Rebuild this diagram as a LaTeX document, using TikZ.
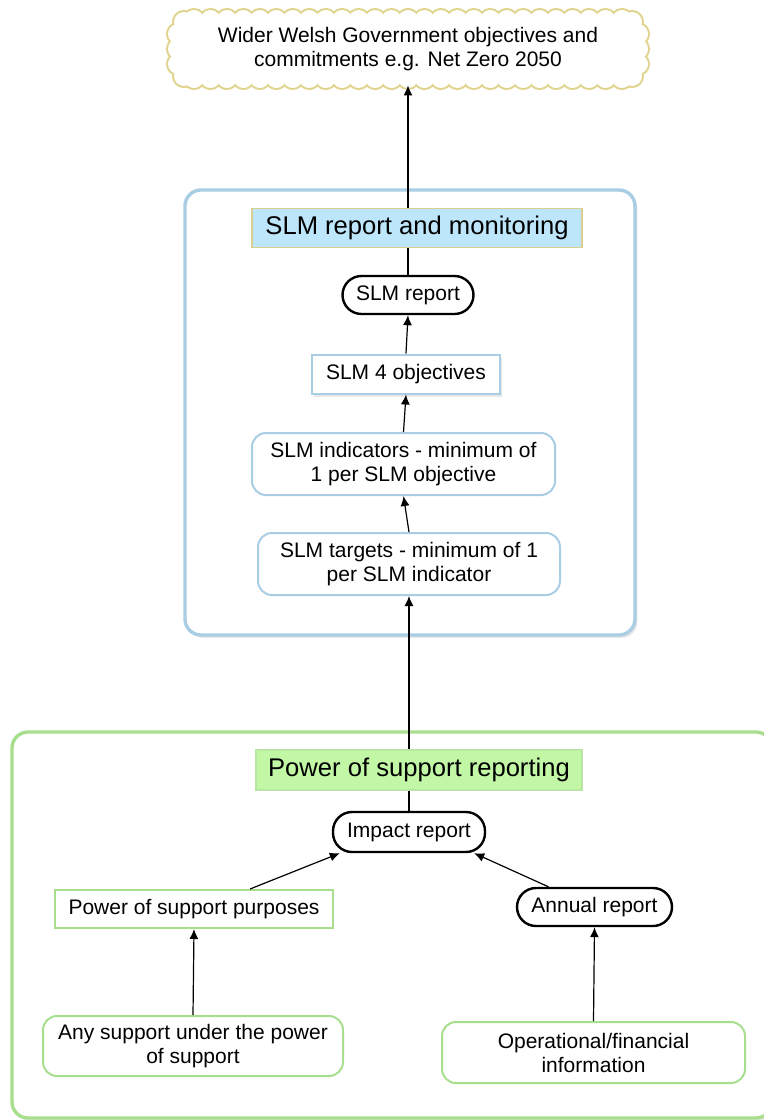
\documentclass[tikz,border=0pt]{standalone}
\usepackage{fontspec}
\setmainfont{Liberation Sans}
\usepackage{tikz}
\usetikzlibrary{arrows.meta}
\usetikzlibrary{shadows}
\definecolor{slmblue}{HTML}{A9CDE3}
\definecolor{slmfill}{HTML}{BDE6FA}
\definecolor{tanline}{HTML}{D9CE92}
\definecolor{cloudline}{HTML}{E0D38C}
\definecolor{posgreen}{HTML}{A8DF8E}
\definecolor{posfill}{HTML}{C1F7A5}
\newcommand{\txt}{\fontsize{10.5}{12}\selectfont}
\newcommand{\bigtxt}{\fontsize{12.8}{15}\selectfont}
\tikzset{
  soft/.style={drop shadow={opacity=0.18, shadow xshift=1.2pt, shadow yshift=-1.5pt}},
  slmframe/.style={draw=slmblue, line width=1.7pt, fill=white, rounded corners=8pt, soft},
  posframe/.style={draw=posgreen, line width=1.7pt, fill=white, rounded corners=8pt, soft},
  pill/.style={draw=black, line width=1.2pt, fill=white, rounded corners=9.5pt, font=\txt, minimum height=19pt},
  bluebox/.style={draw=slmblue, line width=1pt, fill=white, font=\txt, align=center},
  greenbox/.style={draw=posgreen, line width=1pt, fill=white, font=\txt, align=center},
  headbox/.style={line width=0.6pt, font=\bigtxt, minimum height=19.5pt},
  cloudedge/.style={draw=cloudline, line width=2pt},
  cloudfill/.style={fill=white},
  link/.style={black, line width=0.6pt, -{Latex[length=5pt, width=4.5pt]}}
}
\begin{document}
\begin{tikzpicture}[x=0.5pt,y=-0.5pt]
\useasboundingbox (0,0) rectangle (764,1120);
\fill[white] (0,0) rectangle (764,1120);
% the two frames
\node[slmframe, minimum width=225pt, minimum height=222.5pt] (slmbox) at (410,412.5) {};
\node[posframe, minimum width=380pt, minimum height=193pt] (posbox) at (392,925) {};
% top cloud: scalloped edge from little circles
\foreach \opt in {cloudedge, cloudfill} {
  \foreach \i in {0,...,26}
    \path[\opt] (194+\i*16.46,20) circle (5pt) (194+\i*16.46,78) circle (5pt);
  \foreach \y in {34,49,64}
    \path[\opt] (178,\y) circle (5pt) (638,\y) circle (5pt);
  \foreach \x/\y in {184/22, 632/22, 184/76, 632/76}
    \path[\opt] (\x,\y) circle (5pt);
}
\fill[white] (180,16) rectangle (636,82);
\node[font=\txt, align=center, minimum width=234pt, minimum height=36pt] (wider) at (408,49)
  {Wider Welsh Government objectives and\\commitments e.g. Net Zero 2050};
% SLM part
\node[pill, minimum width=65.5pt] (slmreport) at (408,295) {SLM report};
\node[bluebox, minimum width=94pt, minimum height=19.5pt, soft] (objectives) at (406,374) {SLM 4 objectives};
\node[bluebox, rounded corners=7pt, minimum width=151.5pt, minimum height=31pt] (indicators) at (403.5,464)
  {SLM indicators - minimum of\\1 per SLM objective};
\node[bluebox, rounded corners=7pt, minimum width=151pt, minimum height=31pt] (targets) at (409,564)
  {SLM targets - minimum of 1\\per SLM indicator};
% power of support part
\node[pill, minimum width=76pt, minimum height=20pt] (impact) at (409,832) {Impact report};
\node[greenbox, minimum width=139pt, minimum height=19pt] (purposes) at (194,909) {Power of support purposes};
\node[pill, minimum width=77.5pt] (annual) at (594.5,907) {Annual report};
\node[greenbox, rounded corners=7pt, minimum width=150pt, minimum height=30pt] (anysupport) at (193,1046)
  {Any support under the power\\of support};
\node[greenbox, rounded corners=7pt, minimum width=151.5pt, minimum height=30.5pt] (operational) at (593.5,1052.5)
  {Operational/financial\\information};
% arrows
\draw[link] (slmreport.north) -- (wider.south);
\draw[link] (objectives.north) -- (slmreport.south);
\draw[link] (indicators.north) -- (objectives.south);
\draw[link] (targets.north) -- (indicators.south);
\draw[link] (impact.north) -- (targets.south);
\draw[link] ([xshift=28pt]purposes.north) -- ([xshift=4pt]impact.south west);
\draw[link] ([xshift=-23pt]annual.north) -- ([xshift=-6pt]impact.south east);
\draw[link] (anysupport.north) -- (purposes.south);
\draw[link] (operational.north) -- (annual.south);
% headings on top of the lines
\node[headbox, draw=tanline, fill=slmfill, minimum width=165pt] (slmhead) at (417,228) {SLM report and monitoring};
\node[headbox, draw=posgreen!80, fill=posfill, minimum width=163pt, minimum height=20pt] (poshead) at (419,770) {Power of support reporting};
\end{tikzpicture}
\end{document}
